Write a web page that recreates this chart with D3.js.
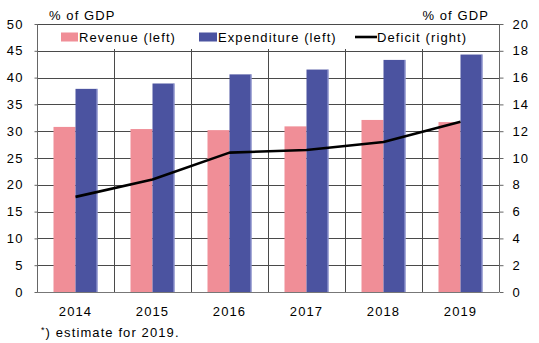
<!DOCTYPE html>
<html>
<head>
<meta charset="utf-8">
<script src="https://cdn.jsdelivr.net/npm/d3@7"></script>
<style>
  html, body { margin: 0; padding: 0; background: #fff; }
  text { font-family: "Liberation Sans", Arial, sans-serif; fill: #000; }
</style>
</head>
<body>
<svg id="chart" width="539" height="343"></svg>
<script>
const years = ["2014", "2015", "2016", "2017", "2018", "2019"];
const revenue = [30.8, 30.4, 30.2, 30.9, 32.1, 31.7];
const expenditure = [37.9, 38.9, 40.6, 41.5, 43.3, 44.3];
const deficit = [7.1, 8.4, 10.4, 10.6, 11.2, 12.7];
const leftTicks = [0, 5, 10, 15, 20, 25, 30, 35, 40, 45, 50];
const rightTicks = [0, 2, 4, 6, 8, 10, 12, 14, 16, 18, 20];
const unitLabel = "% of GDP";
const seriesNames = ["Revenue (left)", "Expenditure (left)", "Deficit (right)"];
const footnote = "estimate for 2019.";

const W = 539, H = 343;
const m = { left: 37, right: 40, top: 24, bottom: 51 };
const svg = d3.select("#chart");
const fs = 13, ls = 1.1;

const x = d3.scaleBand().domain(years).range([m.left, W - m.right]).paddingInner(0).paddingOuter(0);
const yL = d3.scaleLinear().domain([0, 50]).range([H - m.bottom, m.top]);
const yR = d3.scaleLinear().domain([0, 20]).range([H - m.bottom, m.top]);

const gridColor = "#4a4a4a";
const red = "#f08e97";
const blue = "#4b53a0";

// horizontal grid
svg.append("g").selectAll("line").data(leftTicks.slice(1)).join("line")
  .attr("x1", m.left).attr("x2", W - m.right)
  .attr("y1", d => Math.round(yL(d)) + 0.5).attr("y2", d => Math.round(yL(d)) + 0.5)
  .attr("stroke", gridColor).attr("stroke-width", 1);

// vertical grid at category boundaries
svg.append("g").selectAll("line").data(years.slice(1)).join("line")
  .attr("x1", d => Math.round(x(d)) + 0.5).attr("x2", d => Math.round(x(d)) + 0.5)
  .attr("y1", m.top).attr("y2", H - m.bottom)
  .attr("stroke", gridColor).attr("stroke-width", 1);

// bars
const bw = 22;
const off = (x.bandwidth() - 2 * bw) / 2;
svg.append("g").selectAll("rect").data(years).join("rect")
  .attr("x", d => x(d) + off).attr("width", bw)
  .attr("y", (d, i) => yL(revenue[i])).attr("height", (d, i) => yL(0) - yL(revenue[i]))
  .attr("fill", red);
svg.append("g").selectAll("rect").data(years).join("rect")
  .attr("x", d => x(d) + off + bw).attr("width", bw)
  .attr("y", (d, i) => yL(expenditure[i])).attr("height", (d, i) => yL(0) - yL(expenditure[i]))
  .attr("fill", blue);
svg.append("g").selectAll("line").data(years).join("line")
  .attr("x1", d => x(d) + off + 2 * bw - 0.5).attr("x2", d => x(d) + off + 2 * bw - 0.5)
  .attr("y1", (d, i) => yL(expenditure[i])).attr("y2", yL(0))
  .attr("stroke", "#a9aee0").attr("stroke-width", 1);

// legend box (white, covering top of grid)
svg.append("rect").attr("x", m.left + 1).attr("y", m.top + 1)
  .attr("width", W - m.right - m.left - 1).attr("height", 24).attr("fill", "#fff");

// deficit line
const line = d3.line().x((d, i) => x(years[i]) + x.bandwidth() / 2).y(d => yR(d));
svg.append("path").datum(deficit).attr("d", line)
  .attr("fill", "none").attr("stroke", "#000").attr("stroke-width", 2.6).attr("stroke-linejoin", "round");

// frame: top, left, right, bottom
svg.append("line").attr("x1", m.left).attr("x2", W - m.right).attr("y1", m.top + 0.5).attr("y2", m.top + 0.5).attr("stroke", gridColor);
svg.append("line").attr("x1", m.left + 0.5).attr("x2", m.left + 0.5).attr("y1", m.top).attr("y2", H - m.bottom).attr("stroke", "#666");
svg.append("line").attr("x1", W - m.right + 0.5).attr("x2", W - m.right + 0.5).attr("y1", m.top).attr("y2", H - m.bottom).attr("stroke", "#666");

// axes
const axL = svg.append("g").attr("transform", `translate(${m.left + 0.5},0)`)
  .call(d3.axisLeft(yL).tickValues(leftTicks).tickSize(3).tickPadding(11));
const axR = svg.append("g").attr("transform", `translate(${W - m.right + 0.5},0)`)
  .call(d3.axisRight(yR).tickValues(rightTicks).tickSize(4).tickPadding(9));
const axB = svg.append("g").attr("transform", `translate(0,${H - m.bottom + 0.5})`)
  .call(d3.axisBottom(x).tickSize(0).tickPadding(14));
[axL, axR, axB].forEach(a => {
  a.select(".domain").attr("stroke", "#777");
  a.selectAll(".tick line").attr("stroke", "#666");
  a.selectAll("text").attr("font-size", fs).attr("letter-spacing", ls)
    .attr("font-family", "Liberation Sans, Arial, sans-serif").attr("fill", "#000");
});
axL.select(".domain").remove();
axR.select(".domain").remove();
axB.select(".domain").attr("d", `M${m.left},0H${W - m.right}`);

// unit labels
svg.append("text").attr("x", 49).attr("y", 20).attr("font-size", fs).attr("letter-spacing", ls).text(unitLabel);
svg.append("text").attr("x", 489).attr("y", 20).attr("text-anchor", "end").attr("font-size", fs).attr("letter-spacing", ls).text(unitLabel);

// legend
const lg = svg.append("g");
const ly = 37;
lg.append("rect").attr("x", 61).attr("y", ly - 4.5).attr("width", 17).attr("height", 9).attr("fill", red);
lg.append("text").attr("x", 79).attr("y", ly + 4.5).attr("font-size", fs).attr("letter-spacing", ls).text(seriesNames[0]);
lg.append("rect").attr("x", 199).attr("y", ly - 4.5).attr("width", 18).attr("height", 9).attr("fill", blue);
lg.append("text").attr("x", 218).attr("y", ly + 4.5).attr("font-size", fs).attr("letter-spacing", ls).text(seriesNames[1]);
lg.append("line").attr("x1", 355).attr("x2", 377).attr("y1", ly).attr("y2", ly).attr("stroke", "#000").attr("stroke-width", 2.6);
lg.append("text").attr("x", 377).attr("y", ly + 4.5).attr("font-size", fs).attr("letter-spacing", ls).text(seriesNames[2]);

// footnote
const fn = svg.append("text").attr("x", 41).attr("y", 337).attr("font-size", fs).attr("letter-spacing", ls);
fn.append("tspan").attr("font-size", 9).attr("dy", -4).text("*");
fn.append("tspan").attr("dy", 4).text(") " + footnote);
</script>
</body>
</html>
